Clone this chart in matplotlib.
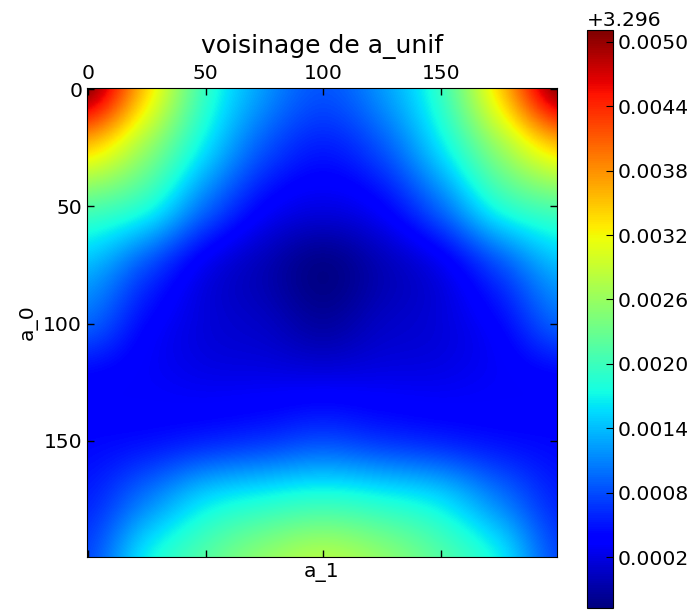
import numpy as np
import matplotlib
matplotlib.use('Agg')
import matplotlib.pyplot as plt
from matplotlib.ticker import ScalarFormatter

# sample points (grid) along each axis
a1_pts = [0, 25, 50, 75, 100, 125, 150, 175, 200]
a0_pts = [0, 25, 50, 75, 100, 125, 150, 175, 200]

base = 3.296
# values above base, in units of 1e-4 ; rows = a_0, columns = a_1
row_a0_000 = [50.0, 34.0, 19.5, 12.0, 8.5, 12.0, 19.5, 34.0, 50.0]
row_a0_025 = [34.5, 26.0, 16.0, 8.5, 5.5, 8.5, 16.0, 26.0, 34.5]
row_a0_050 = [21.5, 18.0, 9.8, 3.9, 2.1, 3.9, 9.8, 18.0, 21.5]
row_a0_075 = [13.8, 8.3, 2.8, -0.1, -2.2, -0.1, 2.8, 8.3, 13.8]
row_a0_100 = [9.1, 4.2, 1.6, 0.5, -1.1, 0.5, 1.6, 4.2, 9.1]
row_a0_125 = [3.7, 3.2, 2.6, 2.6, 2.6, 2.6, 2.6, 3.2, 3.7]
row_a0_150 = [4.2, 4.8, 5.9, 6.9, 8.0, 6.9, 5.9, 4.8, 4.2]
row_a0_175 = [5.9, 10.7, 15.6, 17.7, 18.8, 17.7, 15.6, 10.7, 5.9]
row_a0_200 = [8.0, 16.6, 21.5, 25.3, 27.4, 25.3, 21.5, 16.6, 8.0]

cbar_ticks = [0.0002, 0.0008, 0.0014, 0.0020, 0.0026, 0.0032, 0.0038, 0.0044, 0.0050]
vmin_off, vmax_off = -0.000275, 0.00511

z = base + np.array([row_a0_000, row_a0_025, row_a0_050, row_a0_075, row_a0_100,
                     row_a0_125, row_a0_150, row_a0_175, row_a0_200]) * 1e-4

fig = plt.figure(figsize=(6.92, 6.12), dpi=100)
ax = fig.add_axes([87 / 692, 1 - 557 / 612, 470 / 692, 469 / 612])

step = a1_pts[1] - a1_pts[0]
im = ax.imshow(z, cmap='jet', interpolation='catrom', interpolation_stage='data',
               extent=(a1_pts[0] - step / 2, a1_pts[-1] + step / 2,
                       a0_pts[-1] + step / 2, a0_pts[0] - step / 2),
               vmin=base + vmin_off, vmax=base + vmax_off, aspect='auto')
ax.set_xlim(-0.5, 199.5)
ax.set_ylim(199.5, -0.5)
ax.set_xticks([0, 50, 100, 150])
ax.set_yticks([0, 50, 100, 150])
ax.tick_params(direction='in', top=True, bottom=True, left=True, right=True,
               labeltop=True, labelbottom=False, labelsize=14.6, length=5, width=1)
ax.set_title('voisinage de a_unif', fontsize=18, pad=8)
ax.set_xlabel('a_1', fontsize=14.6)
ax.set_ylabel('a_0', fontsize=14.6)

cax = fig.add_axes([587 / 692, 1 - 608 / 612, 26 / 692, 578 / 612])
cb = fig.colorbar(im, cax=cax, ticks=[base + t for t in cbar_ticks])
cb.formatter = ScalarFormatter(useOffset=base)
cb.update_ticks()
cax.tick_params(direction='in', length=5, labelsize=14.6, right=True, left=False)
cax.yaxis.set_offset_position('left')
cax.yaxis.offsetText.set_fontsize(14.6)

fig.savefig('out.png', dpi=100)
